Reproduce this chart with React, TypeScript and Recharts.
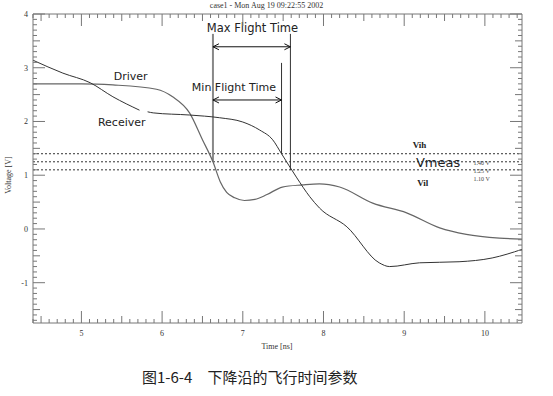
import { LineChart, Line, XAxis, YAxis, ReferenceLine, ReferenceDot } from 'recharts';

// Receiver waveform (gap where the label sits)
const receiverT = [4.4, 4.77, 5.11, 5.39, 5.72, 5.78, 5.82, 5.89, 6.34, 6.71, 7.0, 7.21, 7.37, 7.48, 7.67, 7.83, 7.95, 8.29, 8.69, 8.82, 9.19, 9.68, 10.09, 10.46];
const receiverV = [3.14, 2.9, 2.72, 2.46, 2.21, null, 2.18, 2.16, 2.12, 2.07, 1.99, 1.84, 1.66, 1.4, 0.95, 0.6, 0.39, 0.04, -0.63, -0.7, -0.63, -0.61, -0.54, -0.38];

// Driver waveform
const driverT = [4.4, 5.0, 5.39, 5.93, 6.13, 6.34, 6.5, 6.63, 6.72, 6.8, 6.9, 7.02, 7.15, 7.3, 7.49, 7.74, 7.95, 8.2, 8.61, 9.03, 9.44, 9.77, 10.18, 10.46];
const driverV = [2.7, 2.7, 2.68, 2.6, 2.46, 2.16, 1.66, 1.25, 0.88, 0.68, 0.58, 0.53, 0.55, 0.64, 0.78, 0.82, 0.84, 0.78, 0.48, 0.3, 0.02, -0.1, -0.17, -0.19];

// thresholds
const vih = 1.4;
const vmeas = 1.25;
const vil = 1.1;

// flight time markers (ns)
const tStart = 6.63;
const tMin = 7.48;
const tMax = 7.59;

const xMajor = [5, 6, 7, 8, 9, 10];
const yMajor = [-1, 0, 1, 2, 3, 4];

const xTicks: number[] = [];
for (let i = 44; i <= 104; i++) xTicks.push(i / 10);
const yTicks: number[] = [];
for (let i = -17; i <= 40; i++) yTicks.push(i / 10);

const receiverData = receiverT.map((t, i) => ({ t, v: receiverV[i] }));
const driverData = driverT.map((t, i) => ({ t, v: driverV[i] }));

const AXIS = '#777';
const serif = '"Liberation Serif", "DejaVu Serif", serif';
const sans = '"DejaVu Sans", Verdana, sans-serif';

const tickLen = (v: number) => {
  const r = Math.round(v * 10);
  if (r % 10 === 0) return 12;
  if (r % 5 === 0) return 7;
  return 4;
};

const BottomTick = (p: any) => {
  const v = p.payload.value;
  const len = tickLen(v);
  const major = xMajor.includes(Math.round(v * 10) / 10);
  return (
    <g>
      <line x1={p.x} y1={p.y} x2={p.x} y2={p.y - len} stroke={AXIS} />
      {major && (
        <text x={p.x} y={p.y + 13} textAnchor="middle" fontSize={8} fontFamily={serif} fill="#333">
          {v}
        </text>
      )}
    </g>
  );
};

const TopTick = (p: any) => {
  const len = tickLen(p.payload.value);
  return <line x1={p.x} y1={p.y} x2={p.x} y2={p.y + len} stroke={AXIS} />;
};

const LeftTick = (p: any) => {
  const v = p.payload.value;
  const len = tickLen(v);
  const major = yMajor.includes(Math.round(v * 10) / 10);
  return (
    <g>
      <line x1={p.x} y1={p.y} x2={p.x + len} y2={p.y} stroke={AXIS} />
      {major && (
        <text x={p.x - 5} y={p.y + 3} textAnchor="end" fontSize={8} fontFamily={serif} fill="#333">
          {v}
        </text>
      )}
    </g>
  );
};

const RightTick = (p: any) => {
  const len = tickLen(p.payload.value);
  return <line x1={p.x} y1={p.y} x2={p.x - len} y2={p.y} stroke={AXIS} />;
};

const note = (text: string, style: any) => (p: any) => (
  <text x={p.cx} y={p.cy} textAnchor="middle" dominantBaseline="central" {...style}>
    {text}
  </text>
);

const arrowHead = (dir: number) => (p: any) => (
  <path
    d={`M${p.cx + dir * 6},${p.cy - 3} L${p.cx},${p.cy} L${p.cx + dir * 6},${p.cy + 3}`}
    fill="none"
    stroke="#111"
  />
);

const notes = [
  { x: 7.12, y: 3.74, text: 'Max Flight Time', style: { fontSize: 11.5, fontFamily: sans, fill: '#222' } },
  { x: 6.89, y: 2.64, text: 'Min Flight Time', style: { fontSize: 11, fontFamily: sans, fill: '#222' } },
  { x: 5.61, y: 2.83, text: 'Driver', style: { fontSize: 11, fontFamily: sans, fill: '#222' } },
  { x: 5.5, y: 1.99, text: 'Receiver', style: { fontSize: 11, fontFamily: sans, fill: '#222' } },
  { x: 9.19, y: 1.56, text: 'Vih', style: { fontSize: 9, fontFamily: serif, fontWeight: 'bold', fill: '#222' } },
  { x: 9.42, y: 1.23, text: 'Vmeas', style: { fontSize: 13, fontFamily: sans, fill: '#222' } },
  { x: 9.23, y: 0.86, text: 'Vil', style: { fontSize: 9, fontFamily: serif, fontWeight: 'bold', fill: '#222' } },
  { x: 9.96, y: 1.23, text: '1.40 V', style: { fontSize: 6, fontFamily: serif, fill: '#444' } },
  { x: 9.96, y: 1.07, text: '1.25 V', style: { fontSize: 6, fontFamily: serif, fill: '#444' } },
  { x: 9.96, y: 0.93, text: '1.10 V', style: { fontSize: 6, fontFamily: serif, fill: '#444' } },
];

export default function App() {
  return (
    <div style={{ position: 'absolute', left: 0, top: 0, width: 553, height: 396, background: '#fff' }}>
      <LineChart width={553} height={396} margin={{ top: 8, right: 21, bottom: 53, left: 8 }}>
        <XAxis
          dataKey="t"
          type="number"
          domain={[4.4, 10.46]}
          allowDataOverflow
          ticks={xTicks}
          interval={0}
          tickSize={0}
          tickMargin={0}
          tickLine={false}
          tick={<BottomTick />}
          axisLine={{ stroke: AXIS }}
          height={20}
        />
        <XAxis
          xAxisId="top"
          orientation="top"
          dataKey="t"
          type="number"
          domain={[4.4, 10.46]}
          allowDataOverflow
          ticks={xTicks}
          interval={0}
          tickSize={0}
          tickMargin={0}
          tickLine={false}
          tick={<TopTick />}
          axisLine={{ stroke: AXIS }}
          height={6}
        />
        <YAxis
          type="number"
          domain={[-1.75, 4]}
          allowDataOverflow
          ticks={yTicks}
          interval={0}
          tickSize={0}
          tickMargin={0}
          tickLine={false}
          tick={<LeftTick />}
          axisLine={{ stroke: AXIS }}
          width={25}
        />
        <YAxis
          yAxisId="right"
          orientation="right"
          type="number"
          domain={[-1.75, 4]}
          allowDataOverflow
          ticks={yTicks}
          interval={0}
          tickSize={0}
          tickMargin={0}
          tickLine={false}
          tick={<RightTick />}
          axisLine={{ stroke: AXIS }}
          width={10}
        />

        <ReferenceLine y={vih} stroke="#333" strokeDasharray="2 2" />
        <ReferenceLine y={vmeas} stroke="#333" strokeDasharray="2 2" />
        <ReferenceLine y={vil} stroke="#333" strokeDasharray="2 2" />

        <ReferenceLine segment={[{ x: tStart, y: vmeas }, { x: tStart, y: 3.63 }]} stroke="#888" strokeWidth={2} />
        <ReferenceLine segment={[{ x: tMax, y: vil }, { x: tMax, y: 3.63 }]} stroke="#333" />
        <ReferenceLine segment={[{ x: tMin, y: vih }, { x: tMin, y: 3.09 }]} stroke="#333" />

        <ReferenceLine segment={[{ x: tStart, y: 3.39 }, { x: tMax, y: 3.39 }]} stroke="#111" />
        <ReferenceLine segment={[{ x: tStart, y: 2.4 }, { x: tMin, y: 2.4 }]} stroke="#111" />
        <ReferenceDot x={tStart} y={3.39} r={0} shape={arrowHead(1)} />
        <ReferenceDot x={tMax} y={3.39} r={0} shape={arrowHead(-1)} />
        <ReferenceDot x={tStart} y={2.4} r={0} shape={arrowHead(1)} />
        <ReferenceDot x={tMin} y={2.4} r={0} shape={arrowHead(-1)} />

        <Line data={driverData} dataKey="v" type="monotone" stroke="#666" strokeWidth={1.2} dot={false} isAnimationActive={false} />
        <Line data={receiverData} dataKey="v" type="monotone" stroke="#333" strokeWidth={1} dot={false} connectNulls={false} isAnimationActive={false} />

        {notes.map((n) => (
          <ReferenceDot key={n.text} x={n.x} y={n.y} r={0} shape={note(n.text, n.style)} />
        ))}
      </LineChart>

      <div style={{ position: 'absolute', top: 1, left: 0, width: 533, textAlign: 'center', fontFamily: serif, fontSize: 8, color: '#333' }}>
        case1 - Mon Aug 19 09:22:55 2002
      </div>
      <div
        style={{
          position: 'absolute',
          left: 8,
          top: 175,
          transform: 'translate(-50%, -50%) rotate(-90deg)',
          fontFamily: serif,
          fontSize: 8,
          color: '#333',
          whiteSpace: 'nowrap',
        }}
      >
        Voltage [V]
      </div>
      <div style={{ position: 'absolute', top: 342, left: 227, width: 100, textAlign: 'center', fontFamily: serif, fontSize: 8, color: '#333' }}>
        Time [ns]
      </div>
      <div
        style={{
          position: 'absolute',
          top: 366,
          left: 142,
          fontFamily: '"Noto Sans CJK SC", sans-serif',
          fontSize: 15,
          color: '#222',
          whiteSpace: 'nowrap',
        }}
      >
        图1-6-4{'\u3000'}下降沿的飞行时间参数
      </div>
    </div>
  );
}
